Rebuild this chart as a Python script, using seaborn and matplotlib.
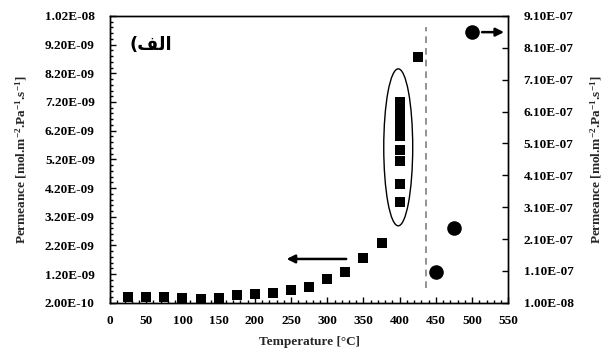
import numpy as np
import pandas as pd
import seaborn as sns
import matplotlib.pyplot as plt
from matplotlib.patches import Ellipse
from matplotlib.ticker import FixedLocator, MultipleLocator

# squares, left axis
temp_sq = [25, 50, 75, 100, 125, 150, 175, 200, 225, 250, 275, 300, 325, 350, 375,
           400, 400, 400, 400, 400, 400, 400, 400, 400, 400, 400, 400, 425]
perm_sq = [4.1e-10, 4.1e-10, 3.9e-10, 3.7e-10, 3.4e-10, 3.6e-10, 4.7e-10, 5.0e-10,
           5.4e-10, 6.5e-10, 7.7e-10, 1.03e-09, 1.26e-09, 1.76e-09, 2.28e-09,
           7.2e-09, 7.0e-09, 6.85e-09, 6.7e-09, 6.5e-09, 6.35e-09, 6.15e-09, 6.0e-09,
           5.53e-09, 5.16e-09, 4.35e-09, 3.71e-09, 8.77e-09]
# circles, right axis
temp_ci = [450, 475, 500]
perm_ci = [1.08e-07, 2.44e-07, 8.59e-07]

left_ticks = [2e-10 + k * 1e-9 for k in range(11)]
right_ticks = [1e-8 + k * 1e-7 for k in range(10)]
x_ticks = list(range(0, 551, 50))

sns.set_style('ticks')
plt.rcParams['font.family'] = ['Liberation Serif', 'DejaVu Sans']
plt.rcParams['font.weight'] = 'bold'
plt.rcParams['mathtext.fontset'] = 'custom'
plt.rcParams['mathtext.rm'] = 'Liberation Serif:bold'
plt.rcParams['mathtext.default'] = 'rm'

fig = plt.figure(figsize=(6.08, 3.53), dpi=100)
ax = fig.add_axes([0.181, 0.142, 0.655, 0.813])
ax2 = ax.twinx()

sq = pd.DataFrame({'T': temp_sq, 'P': perm_sq})
ci = pd.DataFrame({'T': temp_ci, 'P': perm_ci})
sns.scatterplot(data=sq, x='T', y='P', marker='s', s=60, color='black',
                edgecolor='black', linewidth=0, ax=ax)
sns.scatterplot(data=ci, x='T', y='P', marker='o', s=110, color='black',
                edgecolor='black', linewidth=0, ax=ax2)

ax.set_xlim(0, 550)
ax.set_ylim(2e-10, 1.02e-8)
ax2.set_ylim(1e-8, 9.1e-7)

ax.set_xticks(x_ticks)
ax.set_xticklabels([str(t) for t in x_ticks])
ax.xaxis.set_minor_locator(MultipleLocator(10))
ax.set_yticks(left_ticks)
ax.set_yticklabels([f'{v:.2E}' for v in left_ticks])
ax.yaxis.set_minor_locator(FixedLocator([2e-10 + k * 2e-10 for k in range(51)]))
ax2.set_yticks(right_ticks)
ax2.set_yticklabels([f'{v:.2E}' for v in right_ticks])

for a in (ax, ax2):
    a.tick_params(which='both', direction='in', labelsize=9.5, width=1, colors='black')
    a.tick_params(which='major', length=4)
    a.tick_params(which='minor', length=2)
    for s in a.spines.values():
        s.set_color('black')
        s.set_linewidth(1)
ax.tick_params(axis='x', pad=9)
ax.tick_params(axis='y', pad=11)
ax2.tick_params(axis='y', pad=11)

ax.set_xlabel('Temperature [°C]', fontsize=9.5, fontweight='bold')
ax.xaxis.set_label_coords(0.5, -0.115)
ylab = 'Permeance [mol.m$^{-2}$.Pa$^{-1}$.s$^{-1}$]'
ax.set_ylabel(ylab, fontsize=9.5, fontweight='bold')
ax.yaxis.set_label_coords(-0.203, 0.5)
ax2.set_ylabel(ylab, fontsize=9.5, fontweight='bold')
ax2.yaxis.set_label_coords(1.201, 0.5)

# ellipse around the 400 C cluster
ax.add_patch(Ellipse((398, 5.62e-9), 40, 5.47e-9, fill=False, edgecolor='black', lw=1))
# dashed separator
ax.plot([436, 436], [7.2e-10, 9.82e-9], color='gray', lw=1.2, ls=(0, (4, 3)))
# arrows
ax.annotate('', xy=(240, 1.73e-9), xytext=(330, 1.73e-9),
            arrowprops=dict(arrowstyle='-|>', color='black', lw=1.8, mutation_scale=12))
ax2.annotate('', xy=(548, 8.59e-7), xytext=(510, 8.59e-7),
             arrowprops=dict(arrowstyle='-|>', color='black', lw=1.8, mutation_scale=12))

ax.text(0.05, 0.93, '(\ufed2\ufedf\u0627', transform=ax.transAxes, fontsize=13,
        fontweight='bold', family=['DejaVu Sans'], color='black', ha='left', va='top')

fig.savefig('out.png', dpi=100)
